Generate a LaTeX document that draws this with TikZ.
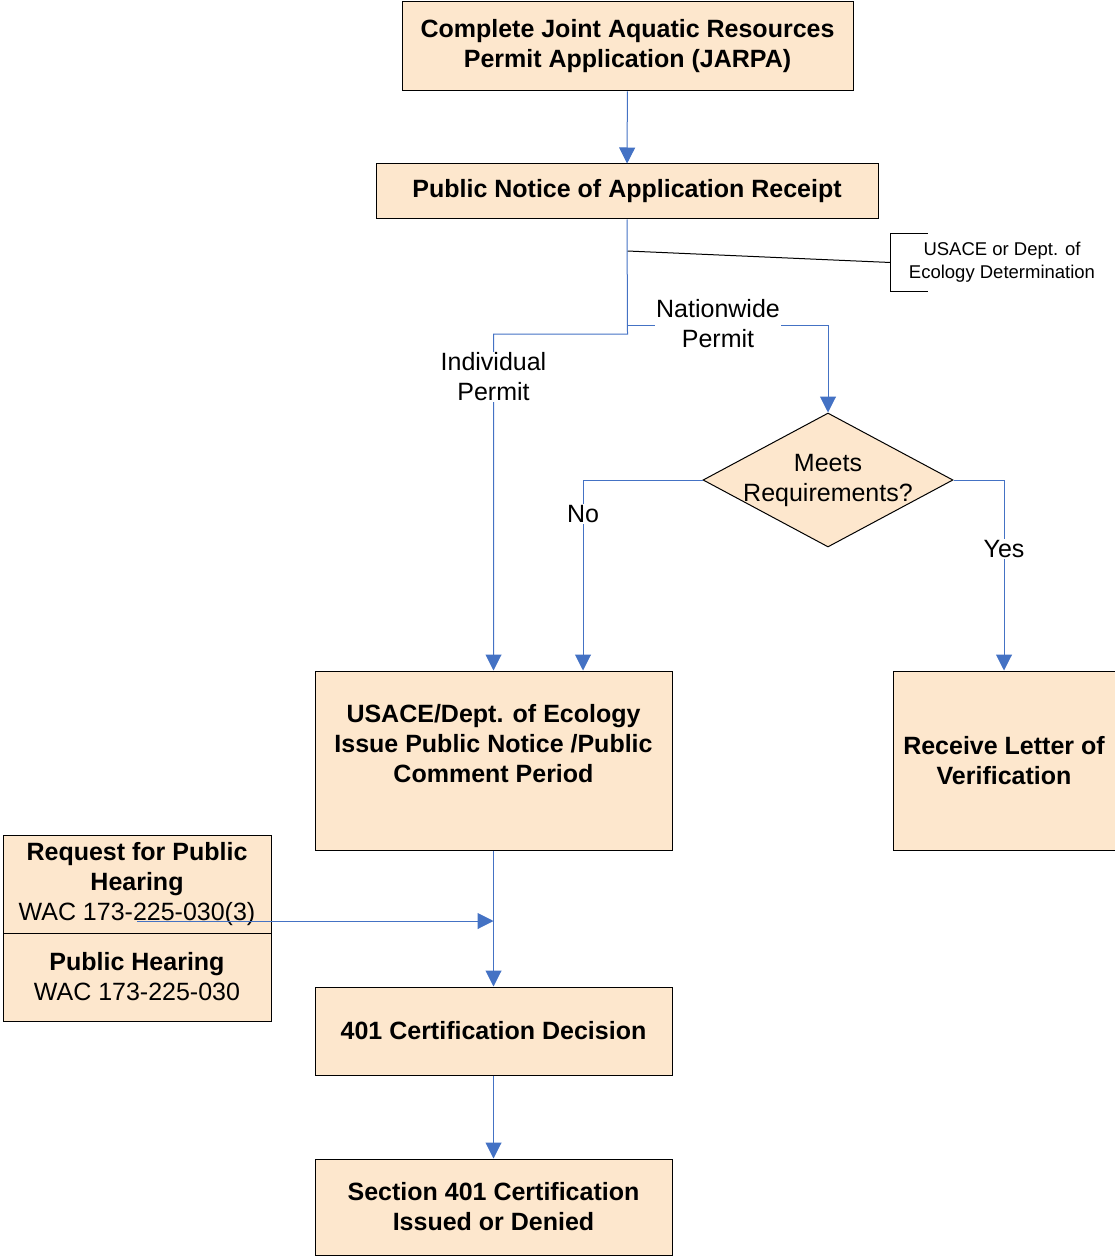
\documentclass[tikz,border=0pt]{standalone}
\usepackage{fontspec}
\setmainfont{Liberation Sans}
\usetikzlibrary{shapes.geometric,arrows.meta}

\definecolor{boxfill}{RGB}{253,231,205}
\definecolor{flowblue}{RGB}{68,114,196}

\begin{document}
\begin{tikzpicture}[x=1pt, y=-1pt, line width=1pt,
  box/.style={draw, fill=boxfill, inner sep=0pt, align=center,
    font=\fontsize{25}{30}\selectfont\bfseries},
  plain/.style={inner sep=0pt, align=center, font=\fontsize{25}{30}\selectfont},
  lbl/.style={plain, fill=white, inner sep=1pt},
  decision/.style={draw, diamond, fill=boxfill, inner sep=0pt,
    minimum width=250pt, minimum height=134pt},
  flow/.style={flowblue, -{Triangle[length=16pt,width=16pt]}}]

\useasboundingbox (0,0) rectangle (1115,1257);

\node[box, minimum width=451pt, minimum height=89pt] (jarpa) at (627.5,46.5)
  {Complete Joint Aquatic Resources\\Permit Application (JARPA)};
\node[box, minimum width=502pt, minimum height=55pt] (notice) at (627,191.5)
  {Public Notice of Application Receipt};

\node[inner sep=0pt, align=center, minimum width=222pt, minimum height=57pt,
  font=\fontsize{18.5}{23}\selectfont] (detnote) at (1002,262.5)
  {USACE or Dept. of\\Ecology Determination};
\draw ([xshift=37pt]detnote.north west) -- (detnote.north west)
  -- (detnote.south west) -- ([xshift=37pt]detnote.south west);

\node[decision] (meets) at (828,480) {};
\node[plain] at (meets.center) {Meets\\Requirements?};

\node[box, minimum width=357pt, minimum height=179pt] (usace) at (493.5,760.5) {};
\node[plain, font=\fontsize{25}{30}\selectfont\bfseries] at (493.5,744)
  {USACE/Dept. of Ecology\\Issue Public Notice /Public\\Comment Period};
\node[box, minimum width=222pt, minimum height=179pt] (letter) at (1004,760.5)
  {Receive Letter of\\Verification};

\node[box, minimum width=268pt, minimum height=98pt] (request) at (137,884)
  {Request for Public\\Hearing\\\mdseries WAC 173-225-030(3)};
\node[box, minimum width=268pt, minimum height=88pt] (hearing) at (137,977)
  {Public Hearing\\\mdseries WAC 173-225-030};

\node[box, minimum width=357pt, minimum height=88pt] (decide) at (493.5,1031)
  {401 Certification Decision};
\node[box, minimum width=357pt, minimum height=96pt] (final) at (493.5,1207)
  {Section 401 Certification\\Issued or Denied};

\coordinate (notetap) at (627.5,251);
\coordinate (split) at (627.5,325);
\coordinate (turn) at (627.5,334);
\coordinate (reqout) at (137,921);
\coordinate (merge) at (493.5,921);

\draw[flow] (jarpa) -- (notice);
\draw (notetap) -- (detnote.west);

\draw[flow] (notice.south) -- (turn) -| (usace.north);
\draw[flow] (split) -| (meets.north);
\node[lbl] at (718,324) {Nationwide\\Permit};
\node[lbl] at (493.5,377) {Individual\\Permit};

\draw[flow] (meets.west) -| ([xshift=89.5pt]usace.north);
\draw[flow] (meets.east) -| (letter.north);
\node[lbl] at (583,514) {No};
\node[lbl] at (1004,549) {Yes};

\draw[flow] (usace) -- (decide);
\draw[flow] (reqout) -- (merge);
\draw[flow] (decide) -- (final);

\end{tikzpicture}
\end{document}
